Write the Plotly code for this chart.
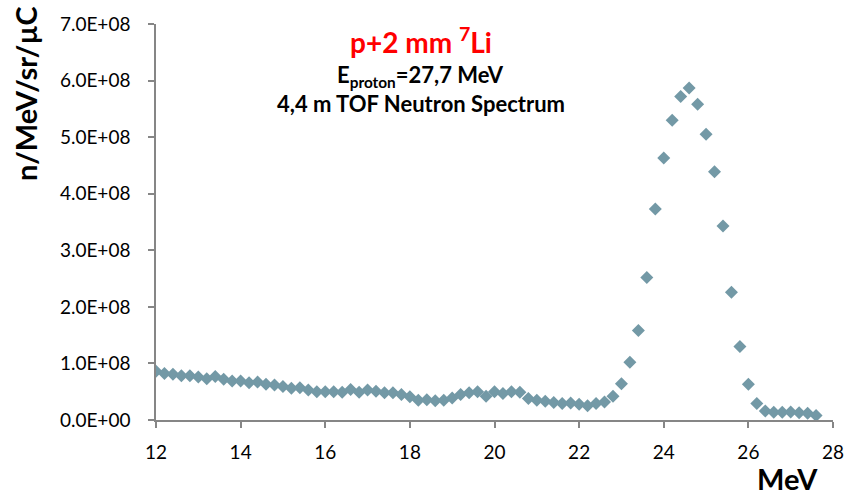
import plotly.graph_objects as go

energy_mev = [round(12.0 + 0.2 * i, 1) for i in range(79)]
flux_e8 = [
    0.86, 0.82, 0.81, 0.78, 0.78, 0.76, 0.73, 0.77, 0.72, 0.69,
    0.69, 0.66, 0.67, 0.63, 0.62, 0.59, 0.56, 0.57, 0.53, 0.50,
    0.50, 0.50, 0.49, 0.54, 0.49, 0.53, 0.51, 0.48, 0.48, 0.45,
    0.41, 0.35, 0.36, 0.34, 0.35, 0.39, 0.45, 0.48, 0.50, 0.42,
    0.50, 0.47, 0.50, 0.49, 0.38, 0.35, 0.33, 0.31, 0.29, 0.30,
    0.28, 0.25, 0.29, 0.32, 0.42, 0.64, 1.02, 1.58, 2.52, 3.73,
    4.63, 5.30, 5.72, 5.87, 5.58, 5.05, 4.39, 3.43, 2.26, 1.30,
    0.63, 0.29, 0.16, 0.135, 0.135, 0.14, 0.13, 0.12, 0.08,
]
flux = [v * 1e8 for v in flux_e8]

x_ticks = [12, 14, 16, 18, 20, 22, 24, 26, 28]
y_tickvals = [0, 1e8, 2e8, 3e8, 4e8, 5e8, 6e8, 7e8]
y_ticktext = ["0.0E+00", "1.0E+08", "2.0E+08", "3.0E+08", "4.0E+08",
              "5.0E+08", "6.0E+08", "7.0E+08"]

FONT = "Lato"
axis_color = "#868686"

fig = go.Figure()
fig.add_trace(go.Scatter(
    x=energy_mev, y=flux, mode="markers",
    marker=dict(symbol="diamond", size=10, color="#7399A6"),
    showlegend=False,
))

fig.update_layout(
    width=856, height=496,
    margin=dict(l=156, r=15, t=22, b=76),
    paper_bgcolor="white", plot_bgcolor="white",
    font=dict(family=FONT, color="black"),
    xaxis=dict(
        range=[12, 28], tickvals=x_ticks, showgrid=False, zeroline=False,
        showline=True, linecolor=axis_color, linewidth=1.5,
        ticks="outside", ticklen=6, tickcolor=axis_color, tickwidth=1.5,
        ticklabelstandoff=8,
        tickfont=dict(size=19, family=FONT, color="black"),
    ),
    yaxis=dict(
        range=[0, 7e8], tickvals=y_tickvals, ticktext=y_ticktext,
        showgrid=False, zeroline=False,
        showline=True, linecolor=axis_color, linewidth=1.5,
        ticks="outside", ticklen=6, tickcolor=axis_color, tickwidth=1.5,
        ticklabelstandoff=14,
        tickfont=dict(size=19, family=FONT, color="black"),
    ),
    annotations=[
        dict(text="<b>n/MeV/sr/µC</b>", xref="paper", yref="paper",
             x=-0.193, y=0.824, xanchor="center", yanchor="middle", textangle=-90,
             showarrow=False, font=dict(size=29, family=FONT, color="black")),
        dict(text="<b>MeV</b>", xref="paper", yref="paper",
             x=0.933, y=-0.147, xanchor="center", yanchor="middle",
             showarrow=False, font=dict(size=29, family=FONT, color="black")),
        dict(text="<b>p+2 mm <sup>7</sup>Li</b>", xref="paper", yref="paper",
             x=0.391, y=0.958, xanchor="center", yanchor="middle",
             showarrow=False, font=dict(size=28, family=FONT, color="#FF0000")),
        dict(text="<b>E<sub>proton</sub>=27,7 MeV</b>", xref="paper", yref="paper",
             x=0.391, y=0.868, xanchor="center", yanchor="middle",
             showarrow=False, font=dict(size=22, family=FONT, color="black")),
        dict(text="<b>4,4 m TOF Neutron Spectrum</b>", xref="paper", yref="paper",
             x=0.391, y=0.798, xanchor="center", yanchor="middle",
             showarrow=False, font=dict(size=22, family=FONT, color="black")),
    ],
)

fig.write_html("out.html")
